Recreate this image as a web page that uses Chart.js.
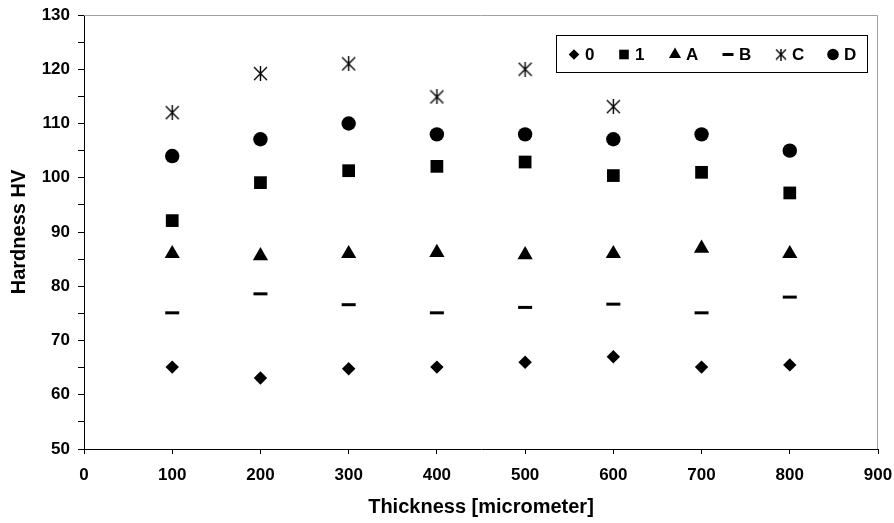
<!DOCTYPE html>
<html>
<head>
<meta charset="utf-8">
<script src="https://cdn.jsdelivr.net/npm/chart.js@4.4.0/dist/chart.umd.min.js"></script>
<style>
  html, body { margin: 0; padding: 0; background: #fff; }
  #wrap { width: 894px; height: 523px; }
</style>
</head>
<body>
<div id="wrap"><canvas id="hardness_chart" width="894" height="523"></canvas></div>
<script>
// thickness in micrometer
const thickness = [100, 200, 300, 400, 500, 600, 700, 800];
const thickness_c = [100, 200, 300, 400, 500, 600];

// hardness HV per sample
const hv_0 = [65.1, 63.1, 64.8, 65.1, 66.0, 67.0, 65.1, 65.5];
const hv_1 = [92.1, 99.1, 101.3, 102.1, 102.9, 100.4, 101.0, 97.2];
const hv_A = [86.0, 85.6, 86.0, 86.2, 85.8, 86.0, 87.0, 86.0];
const hv_B = [75.1, 78.6, 76.6, 75.1, 76.1, 76.7, 75.1, 78.0];
const hv_C = [112.0, 119.2, 121.0, 114.9, 120.0, 113.1];
const hv_D = [104.0, 107.1, 110.0, 108.0, 108.0, 107.1, 108.0, 105.0];

const series_labels = ["0", "1", "A", "B", "C", "D"];

// Excel-like asterisk marker (X plus vertical bar), no horizontal bar
function make_asterisk(size) {
    const c = document.createElement('canvas');
    c.width = size; c.height = size;
    const g = c.getContext('2d');
    g.strokeStyle = '#000';
    g.lineWidth = 1.4;
    g.beginPath();
    g.moveTo(1, 1); g.lineTo(size - 1, size - 1);
    g.moveTo(size - 1, 1); g.lineTo(1, size - 1);
    g.moveTo(size / 2, 0); g.lineTo(size / 2, size);
    g.stroke();
    return c;
}
const asterisk = make_asterisk(15);
const asterisk_small = make_asterisk(12);

function pts(xs, ys) {
    return xs.map((x, i) => ({ x: x, y: ys[i] }));
}

const marker_styles = [
    { pointStyle: 'rectRot', pointRadius: 6.7, legendRadius: 5.3 },
    { pointStyle: 'rect', pointRadius: 9, legendRadius: 6.8 },
    { pointStyle: 'triangle', pointRadius: 8.8, legendRadius: 7 },
    { pointStyle: 'line', pointRadius: 7, legendRadius: 5.5, borderWidth: 3 },
    { pointStyle: asterisk, pointRadius: 7, legendStyle: asterisk_small, legendRadius: 6 },
    { pointStyle: 'circle', pointRadius: 7.2, legendRadius: 5.8 }
];

const series_x = [thickness, thickness, thickness, thickness, thickness_c, thickness];
const series_y = [hv_0, hv_1, hv_A, hv_B, hv_C, hv_D];

const datasets = series_labels.map((lab, i) => ({
    label: lab,
    data: pts(series_x[i], series_y[i]),
    pointStyle: marker_styles[i].pointStyle,
    pointRadius: marker_styles[i].pointRadius,
    pointHoverRadius: marker_styles[i].pointRadius,
    pointBorderWidth: marker_styles[i].borderWidth || 0,
    backgroundColor: '#000',
    borderColor: '#000',
    showLine: false
}));

const font_family = "'Liberation Sans', Arial, sans-serif";

// boxed legend inside the plot area, top right
const box_legend = {
    id: 'box_legend',
    afterDraw(chart) {
        const ctx = chart.ctx;
        const area = chart.chartArea;
        const right = area.right - 11;
        const left = right - 311;
        const top = area.top + 20;
        const h = 37;
        ctx.save();
        ctx.strokeStyle = '#000';
        ctx.lineWidth = 1;
        ctx.strokeRect(Math.round(left) + 0.5, Math.round(top) + 0.5, 311, h);
        const cy = top + h / 2 + 1;
        const marker_x = [573, 623, 674, 727, 780, 832];
        ctx.font = "bold 17px " + font_family;
        ctx.textBaseline = 'middle';
        chart.data.datasets.forEach((ds, i) => {
            const ms = marker_styles[i];
            const mx = left + (marker_x[i] - 555);
            ctx.fillStyle = '#000';
            ctx.strokeStyle = '#000';
            ctx.lineWidth = ms.borderWidth || 0;
            Chart.helpers.drawPoint(ctx, {
                pointStyle: ms.legendStyle || ms.pointStyle,
                radius: ms.legendRadius,
                rotation: 0,
                borderWidth: ms.borderWidth || 0
            }, mx, cy);
            ctx.fillStyle = '#000';
            ctx.fillText(ds.label, mx + 11, cy + 1);
        });
        ctx.restore();
    }
};

// grey top and right frame like the original plot area
const plot_frame = {
    id: 'plot_frame',
    beforeDatasetsDraw(chart) {
        const ctx = chart.ctx;
        const a = chart.chartArea;
        ctx.save();
        ctx.strokeStyle = '#a0a0a0';
        ctx.lineWidth = 1;
        ctx.beginPath();
        ctx.moveTo(a.left, a.top + 0.5);
        ctx.lineTo(a.right - 0.5, a.top + 0.5);
        ctx.lineTo(a.right - 0.5, a.bottom);
        ctx.stroke();
        ctx.restore();
    }
};

const scatter_config = {
    type: 'scatter',
    data: { datasets: datasets },
    options: {
        responsive: false,
        animation: false,
        layout: { padding: { top: 15, right: 16, left: 0, bottom: 0 } },
        plugins: {
            legend: { display: false },
            tooltip: { enabled: false }
        },
        scales: {
            x: {
                type: 'linear',
                min: 0,
                max: 900,
                afterFit(scale) {
                    scale.height = 74;
                    scale.paddingLeft = 0;
                    scale.paddingRight = 0;
                },
                border: { color: '#000', width: 1 },
                grid: { drawOnChartArea: false, drawTicks: true, tickLength: 5, color: '#000' },
                ticks: {
                    stepSize: 100,
                    autoSkip: false,
                    maxRotation: 0,
                    padding: 11,
                    color: '#000',
                    font: { family: font_family, size: 17, weight: 'bold' }
                },
                title: {
                    display: true,
                    text: 'Thickness [micrometer]',
                    color: '#000',
                    padding: { bottom: 4 },
                    font: { family: font_family, size: 20, weight: 'bold', lineHeight: 1.2 }
                }
            },
            y: {
                type: 'linear',
                min: 50,
                max: 130,
                afterFit(scale) {
                    scale.width = 84;
                    scale.paddingTop = 0;
                    scale.paddingBottom = 0;
                },
                border: { color: '#000', width: 1 },
                grid: { drawOnChartArea: false, drawTicks: true, tickLength: 6, color: '#000' },
                ticks: {
                    stepSize: 5,
                    autoSkip: false,
                    padding: 8,
                    color: '#000',
                    font: { family: font_family, size: 17, weight: 'bold' },
                    callback: (v) => (v % 10 === 0 ? v : '')
                },
                title: {
                    display: true,
                    text: 'Hardness HV',
                    color: '#000',
                    padding: { top: 7 },
                    font: { family: font_family, size: 20, weight: 'bold', lineHeight: 1.2 }
                }
            }
        }
    },
    plugins: [plot_frame, box_legend]
};

window.onload = function () {
    new Chart(document.getElementById("hardness_chart").getContext('2d'), scatter_config);
};
</script>
</body>
</html>
